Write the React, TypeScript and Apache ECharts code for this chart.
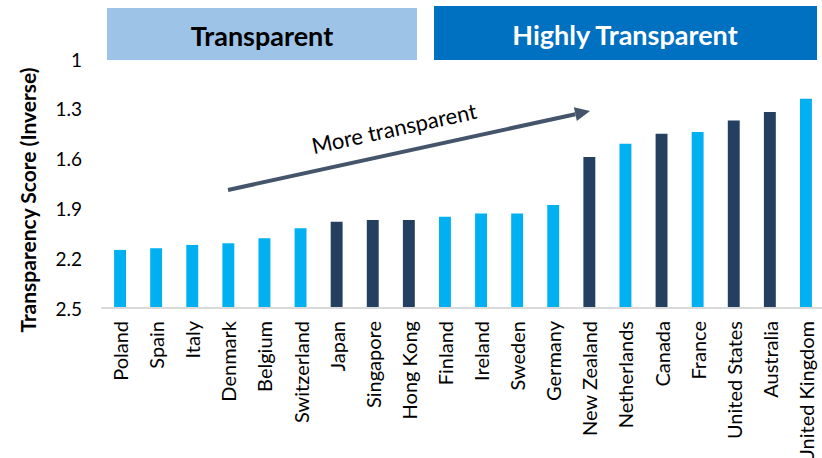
import React, { useEffect, useRef } from "react";
import * as echarts from "echarts";

const countries = [
  "Poland", "Spain", "Italy", "Denmark", "Belgium", "Switzerland", "Japan", "Singapore", "Hong Kong",
  "Finland", "Ireland", "Sweden", "Germany", "New Zealand", "Netherlands", "Canada", "France",
  "United States", "Australia", "United Kingdom",
];
const scores = [2.15, 2.14, 2.12, 2.11, 2.08, 2.02, 1.98, 1.97, 1.97, 1.95, 1.93, 1.93, 1.88, 1.59, 1.51, 1.45, 1.44, 1.37, 1.32, 1.24];
const darkGroup = [false, false, false, false, false, false, true, true, true, false, false, false, false, true, false, true, false, true, true, false];
const yTicks = [1, 1.3, 1.6, 1.9, 2.2, 2.5];

const LIGHT = "#00B0F0";
const DARK = "#243F60";
const FONT = "Lato";

export default function App() {
  const ref = useRef<HTMLDivElement>(null);
  useEffect(() => {
    if (!ref.current) return;
    const chart = echarts.init(ref.current, undefined, { renderer: "svg" });
    const yMin = yTicks[0];
    const yMax = yTicks[yTicks.length - 1];
    const tip = [590, 111];
    const tail = [228, 190];
    const dx = tip[0] - tail[0], dy = tip[1] - tail[1];
    const len = Math.sqrt(dx * dx + dy * dy);
    const ux = dx / len, uy = dy / len;
    const hl = 15, hw = 7;
    const base = [tip[0] - ux * hl, tip[1] - uy * hl];
    chart.setOption({
      animation: false,
      grid: { left: 102, right: -2, top: 59, bottom: 150, outerBoundsMode: "none", containLabel: false },
      xAxis: {
        type: "category",
        data: countries,
        axisLine: { lineStyle: { color: "#D9D9D9", width: 2 } },
        axisTick: { show: false },
        axisLabel: { rotate: 90, interval: 0, fontFamily: FONT, fontSize: 20, color: "#000", margin: 13 },
      },
      yAxis: {
        type: "value",
        inverse: true,
        min: yMin,
        max: yMax,
        interval: 0.3,
        splitLine: { show: false },
        axisLine: { show: false },
        axisTick: { show: false },
        axisLabel: { fontFamily: FONT, fontSize: 19, color: "#000", margin: 20, formatter: (v: number) => String(Math.round(v * 10) / 10) },
      },
      series: [
        {
          type: "custom",
          clip: false,
          data: scores.map((v, i) => [i, v]),
          renderItem: (params: any, api: any) => {
            const idx = params.dataIndex;
            const top = api.coord([api.value(0), api.value(1)]);
            const bot = api.coord([api.value(0), yMax]);
            const w = api.size([1, 0])[0] * 0.33;
            return {
              type: "rect",
              shape: { x: top[0] - w / 2, y: top[1], width: w, height: bot[1] - top[1] - 1 },
              style: { fill: darkGroup[idx] ? DARK : LIGHT },
            };
          },
        },
      ],
      graphic: [
        {
          type: "text", x: 27, y: 200, rotation: Math.PI / 2,
          style: { text: "Transparency Score (Inverse)", fontFamily: FONT, fontSize: 21, fontWeight: "bold", fill: "#000", align: "center", verticalAlign: "middle" },
        },
        { type: "rect", shape: { x: 107, y: 8, width: 310, height: 52 }, style: { fill: "#9DC3E6" } },
        { type: "text", x: 262, y: 35, style: { text: "Transparent", fontFamily: FONT, fontSize: 27, fontWeight: "bold", fill: "#000", align: "center", verticalAlign: "middle" } },
        { type: "rect", shape: { x: 434, y: 6, width: 383, height: 54 }, style: { fill: "#0070C0" } },
        { type: "text", x: 625, y: 34, style: { text: "Highly Transparent", fontFamily: FONT, fontSize: 27, fontWeight: "bold", fill: "#fff", align: "center", verticalAlign: "middle" } },
        { type: "line", shape: { x1: tail[0], y1: tail[1], x2: base[0], y2: base[1] }, style: { stroke: "#44546A", lineWidth: 4 } },
        {
          type: "polygon",
          shape: { points: [tip, [base[0] - uy * hw, base[1] + ux * hw], [base[0] + uy * hw, base[1] - ux * hw]] },
          style: { fill: "#44546A" },
        },
        {
          type: "text", x: 394, y: 128, rotation: Math.atan2(-dy, dx),
          style: { text: "More transparent", fontFamily: FONT, fontSize: 22, fill: "#000", align: "center", verticalAlign: "middle" },
        },
      ],
    });
    return () => chart.dispose();
  }, []);
  return <div ref={ref} style={{ width: 822, height: 458, position: "absolute", left: 0, top: 0 }} />;
}
